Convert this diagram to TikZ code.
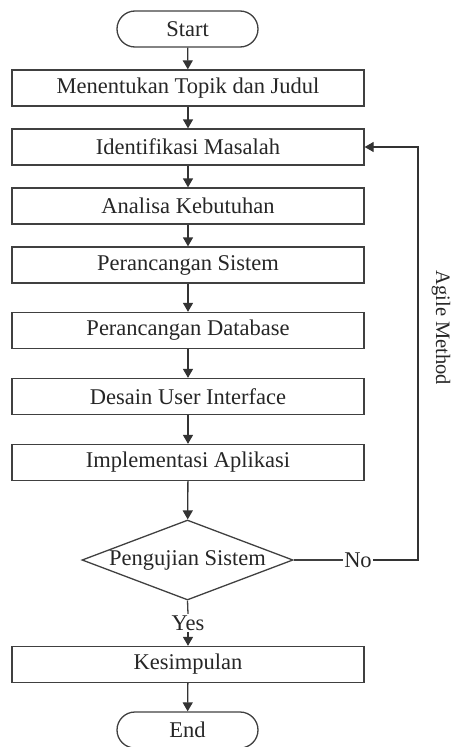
\documentclass[tikz,border=0pt]{standalone}
\usepackage{fontspec}
\setmainfont{Liberation Serif}
\usetikzlibrary{shapes.geometric,shapes.misc,arrows.meta}
\begin{document}
\begin{tikzpicture}[x=1pt,y=-1pt,
  line width=1.3pt,
  every node/.style={font=\fontsize{22.5}{26}\selectfont, text=black!85},
  procbox/.style={draw=black!75, rectangle, minimum width=352pt, minimum height=36pt, inner sep=0pt},
  termbox/.style={draw=black!75, rounded rectangle, minimum width=141pt, minimum height=36pt, inner sep=0pt},
  decbox/.style={draw=black!75, diamond, aspect=2.64, minimum width=211pt, minimum height=80pt, inner sep=0pt},
  flow/.style={draw=black!80, -{Triangle[width=10pt,length=9pt]}},
  plain/.style={draw=black!75}
]
\useasboundingbox (0,0) rectangle (454,747);
\node[termbox] (start) at (187.5,29) {Start};
\node[procbox] (b1) at (188,88) {Menentukan Topik dan Judul};
\node[procbox] (b2) at (188,147) {Identifikasi Masalah};
\node[procbox] (b3) at (188,206) {Analisa Kebutuhan};
\node[procbox] (b4) at (188,265) {Perancangan Sistem};
\node[procbox] (b5) at (188,330.5) {Perancangan Database};
\node[procbox] (b6) at (188,396.5) {Desain User Interface};
\node[procbox] (b7) at (188,462.5) {Implementasi Aplikasi};
\node[decbox] (dec) at (187.5,560) {Pengujian Sistem};
\node[inner sep=1pt] (yes) at (188,623) {Yes};
\node[procbox] (b8) at (188,664.5) {Kesimpulan};
\node[termbox] (end) at (187.5,730) {End};
\node[inner sep=1pt] (no) at (358,560) {No};
\coordinate (c1) at (418,560);
\coordinate (c2) at (418,147);
\node[rotate=-90, font=\fontsize{20.5}{24}\selectfont] (agile) at (441,328) {Agile Method};

\draw[flow] (start) -- (b1);
\draw[flow] (b1) -- (b2);
\draw[flow] (b2) -- (b3);
\draw[flow] (b3) -- (b4);
\draw[flow] (b4) -- (b5);
\draw[flow] (b5) -- (b6);
\draw[flow] (b6) -- (b7);
\draw[flow] (b7) -- (dec);
\draw[plain] (dec.south) -- (yes.north);
\draw[flow] (yes) -- (b8);
\draw[flow] (b8) -- (end);
\draw[plain] (dec.east) -- (no.west);
\draw[flow] (no.east) -- (c1) -- (c2) -- (b2.east);
\end{tikzpicture}
\end{document}
